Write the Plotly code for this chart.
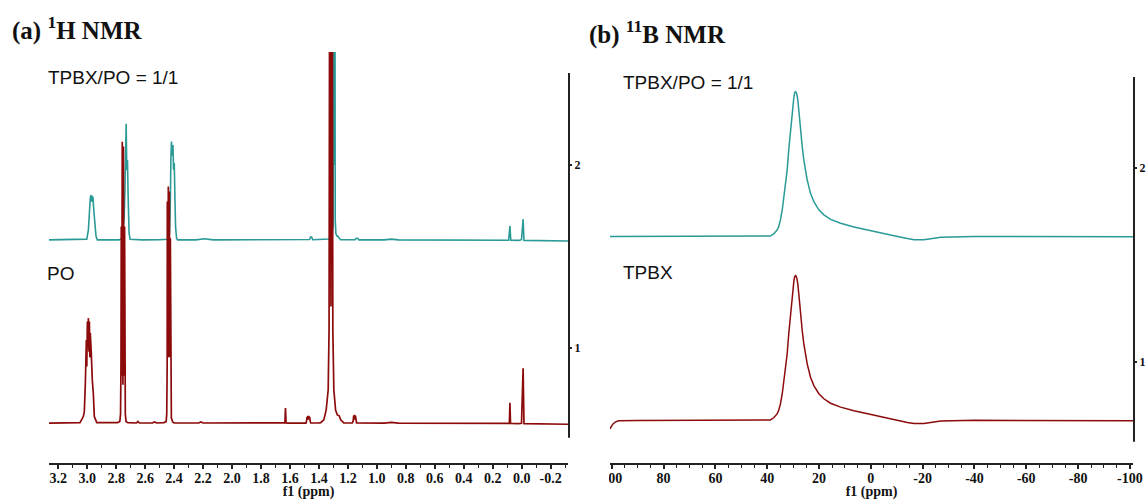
import plotly.graph_objects as go

# ---------------- (a) 1H NMR spectra: chemical shift (ppm) / stacked intensity ----------------
H_PPM_MIX = [3.264, 3.10, 3.003, 2.992, 2.985, 2.979, 2.974, 2.969, 2.965, 2.960, 2.955, 2.948, 2.939, 2.930,
             2.85, 2.780, 2.759, 2.750, 2.745, 2.740, 2.738, 2.736, 2.731, 2.727, 2.722, 2.718, 2.716, 2.711, 2.704,
             2.62, 2.50, 2.446, 2.432, 2.427, 2.422, 2.418, 2.413, 2.408, 2.404, 2.399, 2.394, 2.390, 2.383, 2.376,
             2.25, 2.19, 2.13, 1.62, 1.557, 1.50, 1.465, 1.458, 1.450, 1.443, 1.36,
             1.330, 1.318, 1.308, 1.302, 1.2985, 1.2945, 1.2905, 1.2875, 1.283, 1.275, 1.268, 1.262, 1.250,
             1.15, 1.142, 1.132, 1.125, 0.95, 0.90, 0.85,
             0.09, 0.081, 0.075, 0.02, 0.001, -0.010, -0.016, -0.32]
H_INT_MIX = [1.591, 1.592, 1.595, 1.645, 1.755, 1.818, 1.836, 1.800, 1.831, 1.818, 1.755, 1.682, 1.609, 1.591,
             1.592, 1.591, 1.600, 1.682, 1.718, 1.846, 2.027, 1.936, 2.224, 1.973, 2.027, 1.846, 1.718, 1.627, 1.594,
             1.591, 1.592, 1.594, 1.627, 1.755, 2.045, 2.127, 2.050, 2.109, 1.973, 2.010, 1.809, 1.664, 1.600, 1.591,
             1.591, 1.597, 1.591, 1.591, 1.595, 1.591, 1.593, 1.606, 1.606, 1.592, 1.592,
             1.596, 1.603, 1.625, 1.670, 4.200, 2.000, 4.200, 1.700, 1.625, 1.612, 1.610, 1.603, 1.592,
             1.592, 1.600, 1.600, 1.591, 1.591, 1.595, 1.591,
             1.589, 1.667, 1.589, 1.588, 1.592, 1.704, 1.588, 1.585]

H_PPM_PO = [3.264, 3.10, 3.050, 3.027, 3.020, 3.013, 3.006, 3.003, 2.999, 2.996, 2.992, 2.988, 2.985, 2.982,
            2.979, 2.972, 2.968, 2.965, 2.958, 2.951, 2.934,
            2.85, 2.790, 2.775, 2.770, 2.767, 2.765, 2.762, 2.758, 2.7535, 2.750, 2.746, 2.742, 2.740, 2.737,
            2.732, 2.72, 2.66, 2.65, 2.64, 2.55, 2.535, 2.52,
            2.47, 2.455, 2.451, 2.448, 2.447, 2.4435, 2.440, 2.4365, 2.433, 2.4295, 2.426, 2.423, 2.419, 2.41,
            2.40, 2.23, 2.215, 2.20, 2.02, 2.01, 2.00,
            1.64, 1.635, 1.631, 1.627, 1.62,
            1.49, 1.486, 1.482, 1.479, 1.476, 1.473, 1.470, 1.467, 1.464, 1.460, 1.456,
            1.40, 1.388, 1.366, 1.350, 1.336, 1.330, 1.3235, 1.317, 1.3105, 1.304, 1.297, 1.285, 1.273,
            1.266, 1.260, 1.250, 1.228,
            1.17, 1.164, 1.160, 1.157, 1.154, 1.151, 1.148, 1.144, 1.14,
            0.95, 0.90, 0.85, 0.09, 0.085, 0.081, 0.077, 0.02, 0.001, -0.010, -0.016, -0.32]
H_INT_PO = [0.591, 0.592, 0.594, 0.627, 0.654, 0.809, 1.045, 0.900, 1.145, 1.000, 1.164, 0.980, 1.145, 0.950,
            1.082, 0.973, 0.850, 0.827, 0.754, 0.627, 0.594,
            0.592, 0.594, 0.600, 0.640, 0.900, 1.664, 0.850, 2.127, 0.800, 2.100, 0.850, 1.664, 0.900, 0.640,
            0.600, 0.594, 0.592, 0.600, 0.592, 0.592, 0.598, 0.592,
            0.594, 0.600, 0.640, 0.900, 1.800, 0.950, 1.882, 0.950, 1.855, 0.950, 1.600, 0.750, 0.620, 0.597,
            0.592, 0.592, 0.598, 0.592, 0.592, 0.595, 0.591,
            0.591, 0.593, 0.673, 0.593, 0.591,
            0.591, 0.600, 0.626, 0.610, 0.631, 0.610, 0.631, 0.610, 0.626, 0.600, 0.592,
            0.592, 0.594, 0.609, 0.663, 0.773, 1.100, 4.500, 1.227, 4.500, 1.100, 0.773, 0.663, 0.636,
            0.634, 0.631, 0.609, 0.592,
            0.592, 0.600, 0.632, 0.610, 0.636, 0.610, 0.632, 0.600, 0.592,
            0.591, 0.595, 0.591, 0.588, 0.590, 0.702, 0.589, 0.588, 0.590, 0.891, 0.588, 0.585]

# ---------------- (b) 11B NMR spectra ----------------
B_PPM_MIX = [100.7, 60, 40.0, 38.8, 37.5, 36.2, 35.6, 34.9, 34.2, 33.6, 33.0, 32.3, 31.7, 31.0, 30.4, 29.7,
             29.4, 29.0, 28.6, 28.2, 27.7, 27.2, 26.5, 25.87, 25.22, 24.57, 23.29, 22.0, 20.07, 18.14, 15.55,
             11.68, 6.53, 1.37, -3.79, -8.94, -14.1, -16.7, -20.5, -24.4, -27.0, -40, -70, -101.2]
B_INT_MIX = [1.646, 1.647, 1.647, 1.649, 1.660, 1.680, 1.697, 1.732, 1.784, 1.852, 1.921, 1.990, 2.093, 2.196,
             2.290, 2.367, 2.388, 2.393, 2.381, 2.351, 2.282, 2.196, 2.110, 2.041, 1.981, 1.938, 1.869, 1.826,
             1.784, 1.758, 1.735, 1.715, 1.696, 1.680, 1.667, 1.651, 1.636, 1.630, 1.630, 1.638, 1.643, 1.647,
             1.647, 1.645]

B_PPM_TPBX = [100.7, 99.7, 98.7, 97.4, 90, 60, 40.0, 38.8, 37.5, 36.2, 35.6, 34.9, 34.2, 33.6, 33.0, 32.3,
              31.7, 31.0, 30.4, 29.7, 29.4, 29.0, 28.6, 28.2, 27.7, 27.2, 26.5, 25.87, 25.22, 24.57, 23.29, 22.0,
              20.07, 18.14, 15.55, 11.68, 6.53, 1.37, -3.79, -8.94, -14.1, -16.7, -20.5, -24.4, -27.0, -40, -70,
              -101.2]
B_INT_TPBX = [0.655, 0.678, 0.690, 0.697, 0.698, 0.698, 0.699, 0.701, 0.712, 0.732, 0.749, 0.784, 0.836, 0.904,
              0.973, 1.042, 1.145, 1.248, 1.342, 1.419, 1.440, 1.445, 1.433, 1.403, 1.334, 1.248, 1.162, 1.093,
              1.033, 0.990, 0.921, 0.878, 0.836, 0.810, 0.787, 0.767, 0.748, 0.732, 0.719, 0.703, 0.688, 0.682,
              0.682, 0.690, 0.695, 0.699, 0.699, 0.697]

H_TICK_LABELS = ["3.2", "3.0", "2.8", "2.6", "2.4", "2.2", "2.0", "1.8", "1.6", "1.4", "1.2", "1.0",
                 "0.8", "0.6", "0.4", "0.2", "0.0", "-0.2"]
B_TICK_LABELS = ["100", "80", "60", "40", "20", "0", "-20", "-40", "-60", "-80", "-100"]
Y_TICK_LABELS = ["1", "2"]

TEAL = "#2a9a97"
DARK_RED = "#8c0a0a"
AXIS = "#222222"
W, H = 1147, 500

fig = go.Figure()
fig.add_trace(go.Scatter(x=H_PPM_MIX, y=H_INT_MIX, mode="lines", line=dict(color=TEAL, width=1.6),
                         xaxis="x", yaxis="y", showlegend=False))
fig.add_trace(go.Scatter(x=H_PPM_PO, y=H_INT_PO, mode="lines", line=dict(color=DARK_RED, width=1.7),
                         xaxis="x", yaxis="y", showlegend=False))
fig.add_trace(go.Scatter(x=B_PPM_MIX, y=B_INT_MIX, mode="lines", line=dict(color=TEAL, width=1.5),
                         xaxis="x2", yaxis="y2", showlegend=False))
fig.add_trace(go.Scatter(x=B_PPM_TPBX, y=B_INT_TPBX, mode="lines", line=dict(color=DARK_RED, width=1.5),
                         xaxis="x2", yaxis="y2", showlegend=False))

tick_font = dict(family="Liberation Serif", size=14, color="#111", weight="bold")
axis_title_font = dict(family="Liberation Serif", size=14, color="#111", weight="bold")


def x_axis(domain, rng, labels, minor_step):
    return dict(
        domain=domain, range=rng, showgrid=False, zeroline=False, automargin=False,
        showline=True, linecolor=AXIS, linewidth=2,
        ticks="outside", ticklen=4, tickwidth=1.5, tickcolor=AXIS, ticklabelstandoff=-3,
        tickmode="array", tickvals=[float(t) for t in labels], ticktext=labels,
        minor=dict(dtick=minor_step, tick0=0, ticks="outside", ticklen=2.5, tickwidth=1.2, tickcolor=AXIS),
        tickfont=tick_font,
        title=dict(text="f1 (ppm)", font=axis_title_font, standoff=3),
    )


def y_axis(domain, rng, anchor):
    return dict(
        domain=domain, range=rng, anchor=anchor, side="right", showgrid=False, zeroline=False,
        automargin=False, showline=False, ticks="outside", ticklen=3, tickwidth=1.5, tickcolor=AXIS,
        tickmode="array", tickvals=[float(t) for t in Y_TICK_LABELS], ticktext=Y_TICK_LABELS,
        tickfont=dict(family="Liberation Serif", size=12, color="#111", weight="bold"),
    )


fig.update_layout(
    width=W, height=H, margin=dict(l=0, r=0, t=0, b=0, autoexpand=False),
    paper_bgcolor="white", plot_bgcolor="white",
    xaxis=x_axis([49 / W, 568 / W], [3.264, -0.32], H_TICK_LABELS, 0.1),
    yaxis=y_axis([0.0734, 0.896], [0.372, 2.616], "x"),
    xaxis2=x_axis([610 / W, 1133 / W], [100.7, -101.2], B_TICK_LABELS, 5),
    yaxis2=y_axis([0.062, 0.86], [0.448, 2.505], "x2"),
)

# vertical intensity axes, shorter than the plotting area
fig.add_shape(type="line", xref="paper", yref="y", x0=569 / W, x1=569 / W, y0=0.511, y1=2.502,
              line=dict(color=AXIS, width=2))
fig.add_shape(type="line", xref="paper", yref="y2", x0=1134 / W, x1=1134 / W, y0=0.588, y1=2.469,
              line=dict(color=AXIS, width=2))
# panel (b) is trimmed at its left edge
fig.add_shape(type="rect", xref="paper", yref="paper", x0=585 / W, x1=609 / W, y0=0, y1=0.055,
              fillcolor="white", line=dict(width=0), layer="above")

title_font = dict(family="Liberation Serif", size=25, color="#111")
label_font = dict(family="Liberation Sans", size=19, color="#111")
annotations = [
    dict(text="<b>(a) <sup>1</sup>H NMR</b>", x=10 / W, y=1 - 28 / H, font=title_font),
    dict(text="<b>(b) <sup>11</sup>B NMR</b>", x=587 / W, y=1 - 32 / H, font=title_font),
    dict(text="TPBX/PO = 1/1", x=46 / W, y=1 - 77 / H, font=label_font),
    dict(text="PO", x=45 / W, y=1 - 273 / H, font=label_font),
    dict(text="TPBX/PO = 1/1", x=621 / W, y=1 - 82 / H, font=label_font),
    dict(text="TPBX", x=621 / W, y=1 - 272 / H, font=label_font),
]
for a in annotations:
    fig.add_annotation(xref="paper", yref="paper", xanchor="left", yanchor="middle", showarrow=False, **a)

fig.write_html("out.html")
